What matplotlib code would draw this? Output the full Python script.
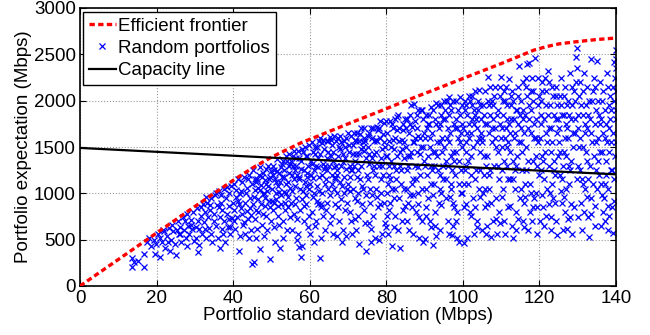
import numpy as np
import matplotlib
matplotlib.use("Agg")
import matplotlib.pyplot as plt

plt.rcParams['font.family'] = ['Liberation Sans', 'DejaVu Sans']

# ------------------------------------------------
# Data
# ------------------------------------------------

# efficient frontier (std dev, expectation), Mbps
frontier_std = [0, 10, 20, 30, 40, 45.3, 50, 57.6, 62.8, 70, 78, 85.6, 93,
                100.3, 110, 118.6, 122, 125, 129, 135, 140]
frontier_mean = [0, 286, 572, 858, 1140, 1280, 1390, 1543, 1629, 1750, 1880,
                 2007, 2125, 2244, 2400, 2546, 2585, 2612, 2633, 2660, 2676]

# capacity line
capacity_std = [0, 50, 100, 140]
capacity_mean = [1490, 1385, 1285, 1205]

# random portfolios (std dev, expectation), grouped by std-dev band
random_portfolios = [
    # 12-20
    (13.5, 210), (13.5, 300), (14, 260), (16.6, 345), (16.6, 200), (17.5, 480),
    (18.5, 430), (19.6, 345), (19.2, 500), (18, 520), (15.2, 275), (19.8, 455),
    # 20-25
    (20.8, 310), (20.5, 560), (21, 520), (21.5, 470), (22, 590), (22.3, 410),
    (22.8, 540), (23.2, 630), (23.5, 380), (23.8, 500), (24.1, 660), (24.4, 590),
    (24.7, 450), (21.7, 600), (23, 470),
    # 25-30
    (25.2, 330), (25.5, 700), (25.8, 560), (26.1, 640), (26.4, 480), (26.8, 750),
    (27.1, 600), (27.4, 700), (27.7, 520), (28, 780), (28.3, 650), (28.6, 560),
    (28.9, 710), (29.2, 620), (29.5, 800), (29.8, 490), (26, 560), (27.9, 430),
    (29, 660), (25.3, 600),
    # 30-35
    (30.2, 520), (30.5, 840), (30.7, 370), (30.9, 700), (31.2, 620), (31.5, 760),
    (31.8, 560), (32, 880), (32.3, 690), (32.6, 800), (32.9, 520), (33.2, 900),
    (33.5, 740), (33.8, 630), (34, 820), (34.3, 950), (34.6, 470), (34.9, 700),
    (31, 440), (32.7, 610), (33.9, 870), (30.4, 640), (31.6, 850), (34.1, 560),
    (33, 960),
    # 35-40
    (35.1, 780), (35.3, 980), (35.6, 650), (35.8, 870), (36, 520), (36.2, 1020),
    (36.5, 740), (36.6, 407), (36.8, 900), (37, 610), (37.2, 820), (37.5, 1050),
    (37.7, 700), (37.9, 480), (38.1, 950), (38.3, 780), (38.6, 640), (38.8, 1000),
    (39, 860), (39.2, 560), (39.5, 1080), (39.7, 730), (39.9, 900), (35.5, 1000),
    (36.9, 980), (37.4, 560), (38.4, 1070), (39.3, 640), (36.3, 850), (38.9, 720),
    # 40-45
    (40.1, 820), (40.3, 1100), (40.5, 620), (40.8, 960), (41, 740), (41.2, 1150),
    (41.4, 378), (41.6, 880), (41.9, 540), (42.1, 1030), (42.3, 780), (42.6, 660),
    (42.8, 1180), (43, 900), (43.2, 560), (43.5, 1060), (43.7, 810), (43.9, 720),
    (44.1, 1200), (44.3, 950), (44.6, 600), (44.8, 237), (44.9, 1100), (40.7, 1040),
    (41.8, 990), (42.4, 1120), (43.3, 1000), (44.4, 840), (40.2, 700), (42, 840),
    (43.8, 1150), (44.7, 770), (41.3, 920), (42.9, 690), (44.2, 520),
    # 45-50
    (45.1, 880), (45.3, 1250), (45.4, 262), (45.6, 1040), (45.8, 720), (46, 520),
    (46.2, 1160), (46.4, 940), (46.6, 800), (46.9, 1280), (47.1, 403), (47.3, 1090),
    (47.5, 660), (47.7, 990), (47.9, 1220), (48, 540), (48.2, 860), (48.4, 1140),
    (48.7, 760), (48.9, 1030), (49.1, 1300), (49.3, 920), (49.5, 295), (49.7, 1180),
    (49.9, 700), (45.9, 1120), (46.7, 1200), (47.4, 880), (48.5, 1260), (49.2, 1080),
    (46.3, 620), (47.8, 780), (48.8, 600), (49.6, 850), (45.5, 960), (47, 1040),
    (48.1, 1000), (49.8, 1240),
    # 50-55
    (50.1, 1050), (50.3, 820), (50.5, 1300), (50.7, 640), (50.9, 1160), (51, 480),
    (51.2, 940), (51.4, 1370), (51.6, 760), (51.8, 1080), (52, 1220), (52.3, 407),
    (52.5, 880), (52.7, 1320), (52.9, 700), (53, 520), (53.2, 1010), (53.4, 1250),
    (53.6, 820), (53.8, 1400), (54, 600), (54.2, 1120), (54.4, 960), (54.6, 1290),
    (54.8, 740), (54.9, 1060), (50.4, 1200), (51.3, 1000), (52.2, 1120), (53.1, 1350),
    (54.3, 850), (50.8, 900), (51.9, 660), (52.8, 1180), (53.7, 1100), (54.7, 1420),
    (51.5, 1240), (52.6, 980), (53.5, 900), (54.1, 1350),
    # 55-60
    (55.1, 900), (55.3, 1200), (55.5, 600), (55.7, 1400), (55.9, 780), (56.1, 1080),
    (56.3, 1300), (56.5, 950), (56.7, 496), (56.9, 1460), (57, 560), (57.2, 1150),
    (57.4, 820), (57.6, 316), (57.8, 1350), (58, 430), (58.2, 1020), (58.4, 1250),
    (58.6, 700), (58.8, 1500), (59, 890), (59.2, 1180), (59.4, 1400), (59.6, 640),
    (59.8, 1050), (55.4, 1030), (56.2, 1250), (57.1, 1380), (57.9, 940), (58.7, 1120),
    (59.5, 1300), (55.8, 1150), (56.6, 720), (57.5, 1050), (58.3, 1450), (59.1, 980),
    (59.9, 1520), (56.8, 1200), (58.5, 860), (55.2, 1350), (57.3, 420), (59.7, 760),
    # 60-65
    (60.1, 1100), (60.3, 1350), (60.5, 800), (60.7, 1550), (60.9, 960), (61, 480),
    (61.2, 1250), (61.4, 1420), (61.6, 700), (61.8, 1080), (62, 1500), (62.2, 880),
    (62.4, 1180), (62.6, 299), (62.8, 1600), (63, 520), (63.2, 1000), (63.4, 1320),
    (63.6, 760), (63.8, 1480), (64, 600), (64.2, 1150), (64.4, 1380), (64.6, 900),
    (64.8, 1560), (64.9, 1050), (60.4, 1200), (61.3, 650), (62.1, 1380), (63.1, 1200),
    (64.3, 820), (60.8, 1450), (61.7, 1300), (62.5, 1020), (63.5, 1580), (64.5, 1250),
    (61.1, 1000), (62.9, 850), (63.9, 1100), (60.2, 560), (64.7, 1450), (62.3, 1560),
    # 65-70
    (65.1, 1300), (65.3, 980), (65.4, 1611), (65.7, 760), (65.9, 1200), (66, 560),
    (66.2, 1450), (66.4, 1050), (66.6, 880), (66.8, 1560), (67, 540), (67.2, 1250),
    (67.4, 1400), (67.6, 700), (67.8, 1120), (68, 1620), (68.2, 940), (68.5, 480),
    (68.7, 1340), (68.9, 1180), (69.1, 820), (69.3, 1500), (69.5, 540), (69.7, 1050),
    (69.9, 1650), (65.5, 1400), (66.3, 1280), (67.1, 1000), (67.9, 1480), (68.8, 600),
    (69.6, 1260), (65.8, 1520), (66.7, 1150), (67.5, 850), (68.3, 1550), (69.2, 1380),
    (65.2, 680), (66.9, 1300), (68.4, 1080), (69.8, 900), (67.3, 1600), (66.5, 1180),
    # 70-75
    (70.1, 1100), (70.3, 1450), (70.5, 800), (70.7, 1620), (70.9, 1250), (71, 560),
    (71.2, 1520), (71.5, 1648), (71.7, 950), (71.9, 1350), (72, 600), (72.2, 1560),
    (72.4, 1180), (72.6, 760), (72.8, 1420), (73, 450), (73.2, 1640), (73.4, 1300),
    (73.6, 880), (73.8, 1500), (74, 1050), (74.2, 1600), (74.4, 680), (74.6, 1380),
    (74.8, 378), (74.9, 1200), (70.4, 1300), (71.3, 1050), (72.1, 1420), (73.1, 1150),
    (73.9, 1550), (74.7, 980), (70.8, 700), (71.8, 1580), (72.7, 1000), (73.5, 1700),
    (74.3, 1460), (71.1, 1250),
    # 75-80
    (75.1, 1500), (75.3, 1150), (75.5, 1650), (75.7, 900), (75.9, 1702), (76, 470),
    (76.2, 1380), (76.4, 1250), (76.6, 760), (76.8, 1560), (77, 520), (77.2, 1050),
    (77.4, 1450), (77.6, 1720), (77.8, 850), (78, 500), (78.2, 1300), (78.4, 1600),
    (78.6, 1000), (78.8, 1480), (79, 560), (79.2, 1200), (79.4, 1760), (79.6, 680),
    (79.8, 1400), (75.4, 1320), (76.3, 1600), (77.1, 1200), (77.9, 1680), (78.7, 1150),
    (79.5, 1550), (75.8, 1050), (76.7, 1420), (77.5, 960), (78.3, 1780), (79.3, 900),
    (76.1, 620), (78.9, 1300),
    # 80-85
    (80.1, 1400), (80.3, 1650), (80.5, 560), (80.7, 1200), (80.9, 1780), (81, 900),
    (81.2, 1500), (81.4, 1050), (81.6, 435), (81.8, 1700), (82, 1300), (82.2, 760),
    (82.4, 1600), (82.6, 1150), (82.8, 1820), (83, 1845), (83.2, 950), (83.5, 410),
    (83.7, 1450), (83.9, 1250), (84.1, 700), (84.3, 1750), (84.5, 1050), (84.7, 1550),
    (84.9, 860), (80.4, 1100), (81.3, 1350), (82.1, 1480), (82.9, 1680), (83.8, 1100),
    (84.6, 1380), (80.8, 820), (81.7, 1580), (82.5, 1250), (83.4, 1700), (84.2, 1480),
    (80.2, 1000), (81.9, 640), (83.1, 600), (84.8, 1800),
    # 85-90
    (85.1, 1500), (85.3, 1250), (85.5, 1800), (85.7, 900), (85.9, 1650), (86, 600),
    (86.2, 1400), (86.4, 1953), (86.6, 1100), (86.8, 1720), (87, 560), (87.2, 1550),
    (87.3, 1964), (87.5, 1300), (87.7, 800), (87.9, 1850), (88.1, 1450), (88.3, 1000),
    (88.5, 520), (88.7, 1600), (88.9, 1200), (89.1, 1900), (89.3, 700), (89.5, 470),
    (89.7, 1500), (89.9, 1350), (85.4, 1050), (86.3, 1750), (87.1, 1150), (88, 1700),
    (88.8, 1420), (89.6, 1800), (85.8, 1300), (86.7, 850), (87.6, 1600), (88.4, 1900),
    (89.2, 1050), (86.5, 1450), (88.6, 750), (89.8, 1650),
    # 90-95
    (90.1, 1600), (90.2, 510), (90.4, 1850), (90.6, 1200), (90.8, 1400), (91, 950),
    (91.2, 1750), (91.4, 1500), (91.6, 1935), (91.8, 1100), (92, 1650), (92.2, 442),
    (92.4, 1300), (92.6, 1800), (92.8, 800), (93, 540), (93.2, 1550), (93.4, 1950),
    (93.6, 1250), (93.8, 1700), (94, 600), (94.2, 1000), (94.4, 1850), (94.6, 1450),
    (94.8, 1150), (95, 2000), (90.5, 1050), (91.3, 700), (92.1, 1450), (92.9, 1980),
    (93.7, 900), (94.5, 1600), (90.9, 1750), (91.7, 1300), (92.5, 1100), (93.3, 1400),
    (94.1, 1750), (90.3, 850), (92.7, 650), (94.9, 1300),
    # 95-100
    (95.2, 1500), (95.4, 1800), (95.6, 1150), (95.8, 2000), (96, 1300), (96.2, 700),
    (96.4, 560), (96.4, 2043), (96.6, 1650), (96.8, 1050), (97, 1900), (97.2, 550),
    (97.4, 1450), (97.6, 1750), (97.8, 850), (98, 1200), (98.2, 2000), (98.5, 520),
    (98.7, 1600), (98.9, 1350), (99, 480), (99.2, 1850), (99.3, 2043), (99.5, 1000),
    (99.7, 1500), (99.9, 1750), (95.5, 950), (96.3, 1850), (97.1, 1250), (97.9, 1700),
    (98.6, 800), (99.4, 1250), (95.9, 1600), (96.7, 1950), (97.5, 650), (98.3, 1450),
    (99.1, 1100), (99.8, 1950), (96.9, 1400), (98.8, 1900),
    # 100-105
    (100.1, 1700), (100.3, 460), (100.5, 2000), (100.7, 1300), (100.9, 1550), (101, 520),
    (101.2, 1850), (101.4, 1100), (101.6, 2050), (101.8, 800), (102, 1650), (102.2, 1400),
    (102.4, 1950), (102.6, 950), (102.8, 1750), (103, 560), (103.2, 2100), (103.4, 1250),
    (103.6, 1550), (103.8, 700), (104, 1900), (104.2, 1050), (104.3, 2115), (104.5, 1450),
    (104.7, 1800), (104.9, 600), (100.4, 1100), (101.3, 1350), (102.1, 1200), (102.9, 1900),
    (103.7, 1700), (104.6, 1250), (100.8, 1950), (101.7, 1600), (102.5, 1800), (103.3, 850),
    (104.1, 1600), (100.2, 850), (101.9, 2000), (103.9, 2000),
    # 105-110
    (105.1, 1600), (105.3, 1950), (105.5, 1200), (105.7, 2100), (105.9, 850), (106, 560),
    (106.2, 1750), (106.4, 1400), (106.6, 2252), (106.8, 1050), (107, 1850), (107.3, 532),
    (107.5, 1550), (107.7, 2000), (107.9, 700), (108.1, 1300), (108.3, 1700), (108.5, 2150),
    (108.7, 950), (108.9, 556), (109.1, 1900), (109.3, 1450), (109.5, 1150), (109.7, 2050),
    (109.9, 1600), (105.4, 1400), (106.3, 650), (107.1, 1250), (107.8, 1800), (108.6, 1500),
    (109.4, 800), (105.8, 1750), (106.7, 1950), (107.4, 900), (108.2, 2050), (109.2, 1300),
    (105.2, 1000), (106.9, 1650), (108.8, 1850), (110, 2252),
    # 110-115
    (110.2, 1500), (110.4, 1850), (110.6, 1050), (110.8, 2100), (111, 560), (111.2, 1700),
    (111.4, 1300), (111.6, 1950), (111.8, 850), (112, 2230), (112.2, 1450), (112.4, 1150),
    (112.6, 1800), (112.8, 650), (113, 520), (113.2, 2000), (113.4, 1600), (113.6, 1250),
    (113.8, 1900), (114, 600), (114.2, 1400), (114.4, 2150), (114.7, 2374), (114.9, 950),
    (110.3, 1250), (111.1, 2000), (111.9, 1550), (112.7, 1950), (113.5, 1050), (114.3, 1750),
    (110.7, 700), (111.5, 1800), (112.3, 1650), (113.1, 1350), (114.1, 1900), (110.9, 1600),
    (112.9, 2100), (113.9, 800), (114.6, 1550), (111.7, 1150),
    # 115-120
    (115.1, 1700), (115.3, 2000), (115.5, 1250), (115.7, 2200), (115.9, 900), (116.1, 640),
    (116.3, 1850), (116.5, 1500), (116.8, 2400), (117, 604), (117.2, 1950), (117.4, 2404),
    (117.6, 1100), (117.8, 1650), (118, 700), (118.2, 2100), (118.4, 1350), (118.8, 2460),
    (119, 1800), (119.2, 1000), (119.3, 561), (119.5, 2250), (119.7, 1550), (119.9, 1200),
    (115.4, 1450), (116.2, 1100), (117.1, 1350), (117.9, 1900), (118.6, 1600), (119.4, 850),
    (115.8, 1800), (116.7, 2050), (117.5, 800), (118.3, 2000), (119.1, 1400), (115.2, 1050),
    (116.9, 1700), (118.5, 950), (119.8, 2050), (116.4, 2250),
    # 120-125
    (120.1, 1600), (120.3, 2000), (120.5, 1250), (120.7, 2200), (120.9, 850), (121.1, 650),
    (121.3, 1800), (121.5, 1450), (121.7, 2100), (121.9, 1050), (122.2, 2320), (122.4, 1700),
    (122.6, 1300), (122.8, 1950), (123, 600), (123.2, 2150), (123.4, 1550), (123.6, 950),
    (123.8, 1850), (124, 1200), (124.2, 2050), (124.5, 550), (124.7, 1650), (124.9, 1400),
    (120.4, 1850), (121.2, 1150), (122, 1550), (122.9, 750), (123.7, 1350), (124.6, 1950),
    (120.8, 1400), (121.6, 1950), (122.5, 2200), (123.3, 1100), (124.3, 1800), (120.2, 700),
    (122.7, 1000), (124.1, 900),
    # 125-130
    (125.1, 1700), (125.3, 2050), (125.5, 1200), (125.7, 2250), (125.9, 900), (126.1, 600),
    (126.3, 1850), (126.5, 1450), (126.7, 2150), (126.9, 1050), (127.1, 620), (127.3, 1950),
    (127.5, 1600), (127.7, 1300), (127.9, 2300), (128.1, 750), (128.3, 1800), (128.5, 560),
    (128.7, 1500), (128.9, 2100), (129.3, 2000), (129.5, 2474), (129.6, 2200), (129.8, 2564),
    (129.7, 2350), (129.9, 1150), (125.4, 1450), (126.2, 1300), (127, 1750), (127.8, 1100),
    (128.6, 1950), (129.4, 1650), (125.8, 1850), (126.6, 800), (127.4, 2000), (128.2, 1350),
    (129.1, 850), (126.8, 1600),
    # 130-135
    (130.1, 1700), (130.3, 2050), (130.5, 1250), (130.7, 2200), (130.9, 900), (131.1, 600),
    (131.3, 1850), (131.5, 1500), (131.7, 2300), (131.9, 1050), (132.1, 1950), (132.3, 1350),
    (132.5, 2150), (132.7, 750), (133, 525), (133.2, 1800), (133.5, 2446), (133.7, 1550),
    (133.9, 1100), (134.1, 2100), (134.3, 1400), (134.5, 650), (134.7, 1900), (134.9, 1250),
    (130.4, 1500), (131.2, 1150), (132, 1650), (132.9, 2000), (133.6, 950), (134.4, 1750),
    (130.8, 1950), (131.6, 800), (132.4, 1700), (133.3, 1300), (134.2, 2250), (135, 2432),
    # 135-140
    (135.2, 1600), (135.4, 2000), (135.6, 1200), (135.8, 2200), (136, 650), (136.2, 1800),
    (136.4, 1450), (136.6, 2100), (136.8, 950), (137, 700), (137.2, 1900), (137.4, 1350),
    (137.6, 2300), (137.8, 1050), (138, 604), (138.2, 1700), (138.4, 2050), (138.6, 1250),
    (138.8, 1550), (139, 850), (139.2, 568), (139.4, 2000), (139.5, 2420), (139.7, 1400),
    (139.9, 1800), (140, 2546), (135.3, 1350), (136.1, 1100), (137.1, 1600), (137.9, 2150),
    (138.7, 1900), (139.6, 1150), (135.7, 1750), (136.5, 800), (137.5, 1200), (138.3, 1450),
    (139.3, 1650), (139.8, 2250),
    # denser core of the cloud
    (45.7, 1150), (46.5, 1060), (47.6, 1180), (48.3, 950), (49.4, 1150), (50.6, 1250),
    (51.1, 1120), (52.4, 1280), (53.3, 1180), (54.5, 1220), (50.2, 920), (52.1, 1010),
    (53.9, 1000), (46.1, 820), (48.6, 1100), (51.7, 860), (54.8, 1320),
    (55.6, 1300), (56.4, 1380), (57.7, 1260), (58.1, 1480), (59.3, 1220), (60.6, 1320),
    (61.5, 1500), (62.7, 1420), (63.3, 1540), (64.1, 1300), (55.9, 1460), (57.3, 1180),
    (59, 1400), (60.9, 1170), (62.2, 1280), (63.7, 1260), (64.6, 1560), (56.2, 880),
    (58.9, 1080), (61.9, 920), (63, 880),
    (65.6, 1580), (66.1, 1350), (67.7, 1500), (68.6, 1420), (69.4, 1600), (70.2, 1520),
    (71.4, 1420), (72.3, 1650), (73.3, 1480), (74.1, 1700), (65.9, 1100), (67, 1200),
    (68.1, 1300), (69, 1000), (70.6, 1180), (71.6, 1300), (72.9, 1560), (74.5, 1560),
    (66.4, 1620), (68.9, 1560), (72.5, 1250), (73.7, 1080),
    (75.2, 1620), (76.5, 1700), (77.3, 1580), (78.1, 1700), (79.1, 1640), (80.6, 1560),
    (81.5, 1750), (82.3, 1800), (83.3, 1560), (84.4, 1680), (75.6, 1420), (76.9, 1300),
    (78.5, 1380), (79.7, 1500), (80.6, 1300), (81.1, 1150), (82.7, 1400), (83.6, 1300),
    (84, 1580), (77.7, 1560), (79.9, 1780), (82.3, 1050),
    (85.2, 1700), (86.1, 1850), (87.4, 1780), (88.2, 1620), (89.4, 1900), (90.7, 1700),
    (91.1, 1850), (92.3, 1900), (93.1, 1750), (94.3, 1950), (85.6, 1400), (86.9, 1550),
    (88.2, 1280), (89, 1500), (90.2, 1300), (91.5, 1600), (92.8, 1450), (93.9, 1550),
    (94.7, 1800), (87.8, 1150), (91.9, 1250), (94, 1200),
    (95.3, 1900), (96.1, 1700), (97.3, 2000), (98.1, 1800), (99.6, 1650), (100.6, 1900),
    (101.5, 1750), (102.3, 2050), (103.1, 1850), (104.4, 1950), (95.7, 1350), (96.5, 1550),
    (97.7, 1350), (98.4, 1700), (99.2, 1550), (100.9, 1450), (101.1, 1650), (102.7, 1500),
    (103.5, 1800), (104.8, 1650), (97, 1100), (100.5, 1250), (103.1, 1150),
    (105.6, 1850), (106.5, 2000), (107.2, 2150), (108, 1950), (109.6, 2150), (110.5, 2000),
    (111.3, 2150), (112.5, 2050), (113.3, 1800), (114.5, 2050), (105, 1550), (106.1, 1300),
    (107.6, 1700), (108.4, 1600), (109.8, 1750), (110.1, 1700), (111.6, 1500), (112.1, 1750),
    (113.7, 1650), (114.8, 1850), (106.8, 1200), (110.8, 1350), (113, 1150), (114, 1300),
    (115.6, 1900), (116.6, 2150), (117.3, 1800), (118.1, 2250), (119.6, 1950), (120.6, 2100),
    (121.4, 2250), (122.3, 1850), (123.5, 2050), (124.4, 2150), (115.1, 1550), (116, 1650),
    (117.7, 2100), (118.7, 1750), (119, 1600), (120.3, 1750), (121.8, 1650), (122.9, 1450),
    (123.1, 1700), (124.8, 1800), (116.6, 1250), (119.3, 1300), (121, 1350), (123.9, 1250),
    (125.6, 1950), (126.4, 2050), (127.6, 1850), (128.4, 2150), (129.2, 1800), (130.2, 1850),
    (131.4, 2100), (132.6, 1850), (133.8, 2000), (134.6, 2150), (135.5, 1850), (136.3, 2000),
    (137.3, 1750), (138.1, 1950), (139.1, 2150), (125.2, 1550), (126.9, 1400), (127.2, 1700),
    (128.8, 1650), (130.6, 1600), (131.8, 1750), (132.2, 1450), (133.4, 1650), (134.8, 1550),
    (135.9, 1450), (136.7, 1650), (137.7, 1550), (138.5, 1800), (139.9, 1550), (126, 1150),
    (128, 1250), (130, 1300), (132.8, 1150), (135.1, 1050), (137, 1100), (139, 1250),
    (140, 2350), (140, 2100), (140, 1900), (139.9, 2450),
    # lower-middle part of the cloud
    (70.5, 1020), (72.4, 920), (74.2, 820), (76.3, 980), (78.4, 880), (80.3, 760),
    (82.1, 950), (84.3, 820), (86.2, 980), (88.4, 880), (90.5, 760), (92.3, 980),
    (94.4, 870), (96.6, 960), (98.3, 700), (100.7, 880), (102.2, 760), (104.5, 960),
    (106.4, 880), (108.6, 720), (110.3, 960), (112.2, 860), (114.4, 720), (116.3, 960),
    (118.2, 850), (120.6, 980), (122.4, 880), (124.3, 700), (126.4, 960), (128.3, 880),
    (130.2, 740), (132.4, 960), (134.4, 860), (136.3, 980), (138.2, 760), (139.6, 920),
    (71.8, 720), (75.4, 680), (79.8, 640), (85.3, 700), (91.6, 640), (97.5, 900),
    (103.7, 640), (109.8, 680), (115.6, 700), (121.7, 760), (127.5, 720), (133.4, 780),
    (137.8, 860), (87.1, 980), (93.9, 1050), (105.7, 1050), (117.7, 1000), (125.7, 1020),
    (131.5, 1100), (99.9, 1000),
]

x_ticks = [0, 20, 40, 60, 80, 100, 120, 140]
y_ticks = [0, 500, 1000, 1500, 2000, 2500, 3000]

# ------------------------------------------------
# Plot
# ------------------------------------------------

pts = np.array(random_portfolios)

fig = plt.figure(figsize=(6.5, 3.35), dpi=100)
ax = fig.add_axes([80 / 650, 49 / 335, 536 / 650, 278 / 335])

ax.plot(pts[:, 0], pts[:, 1], 'x', color='#0000ff', markersize=4.5,
        markeredgewidth=0.9, label='Random portfolios', zorder=2)
ax.plot(frontier_std, frontier_mean, color='#ff0000', linewidth=2.4,
        linestyle=(0, (1.6, 1.0)), label='Efficient frontier', zorder=3)
ax.plot(capacity_std, capacity_mean, color='black', linewidth=1.6,
        label='Capacity line', zorder=4)

ax.set_xlim(0, 140)
ax.set_ylim(0, 3000)
ax.set_xticks(x_ticks)
ax.set_yticks(y_ticks)
ax.tick_params(direction='in', top=True, right=True, length=4,
               labelsize=13.5, pad=3)
ax.grid(True, linestyle=':', color='#999999', linewidth=0.8)
for s in ax.spines.values():
    s.set_linewidth(1.2)

ax.set_xlabel('Portfolio standard deviation (Mbps)', fontsize=13.5, labelpad=0)
ax.set_ylabel('Portfolio expectation (Mbps)', fontsize=13.5, labelpad=1)

h, l = ax.get_legend_handles_labels()
order = [1, 0, 2]
leg = ax.legend([h[i] for i in order], [l[i] for i in order],
                loc='upper left', bbox_to_anchor=(0.006, 0.986),
                borderaxespad=0, fontsize=13.5, fancybox=False,
                edgecolor='black', framealpha=1, handlelength=1.45,
                handletextpad=0.12, labelspacing=0.28, borderpad=0.3)
leg.get_frame().set_linewidth(1.0)

plt.savefig("out.png", dpi=100)
